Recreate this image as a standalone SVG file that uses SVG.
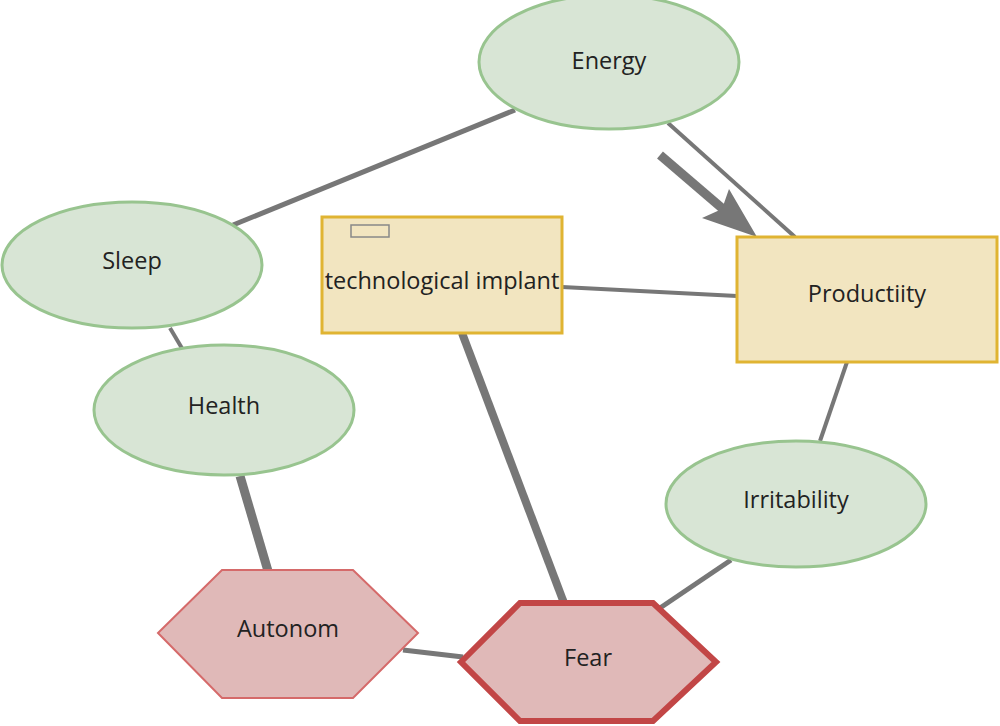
<svg xmlns="http://www.w3.org/2000/svg" width="1000" height="726" viewBox="0 0 1000 726">
<defs>
<style>
.ell{fill:#d8e5d5;stroke:#98c48f;stroke-width:3}
.rect{fill:#f2e5c0;stroke:#e0b432;stroke-width:3}
.hex{fill:#e0b9b8;stroke:#d56a6a;stroke-width:2}
.hexb{fill:#e0b9b8;stroke:#c24646;stroke-width:6;stroke-linejoin:miter}
.lbl{font-family:"Source Sans Pro","Open Sans","Noto Sans",sans-serif;font-size:23.5px;fill:#222;text-anchor:middle;dominant-baseline:central}
.e{stroke:#777;fill:none}
</style>
</defs>
<rect width="1000" height="726" fill="#fff"/>
<g id="connectors">
<line class="e" x1="515" y1="110" x2="233" y2="225" stroke-width="5"/>
<line class="e" x1="668" y1="123" x2="795" y2="237" stroke-width="4"/>
<line class="e" x1="660" y1="155" x2="730" y2="215" stroke-width="9"/>
<path d="M757,237 L729,189 L722,209 L702,218 Z" fill="#777"/>
<line class="e" x1="562" y1="287" x2="737" y2="296" stroke-width="4"/>
<line class="e" x1="170" y1="328" x2="183" y2="350" stroke-width="4"/>
<line class="e" x1="240" y1="476" x2="268" y2="571" stroke-width="9"/>
<line class="e" x1="462" y1="333" x2="564" y2="603" stroke-width="8"/>
<line class="e" x1="847" y1="362" x2="820" y2="441" stroke-width="4"/>
<line class="e" x1="731" y1="560" x2="660" y2="608" stroke-width="5"/>
<line class="e" x1="403" y1="650" x2="463" y2="657" stroke-width="5"/>
</g>
<g id="energy">
<ellipse class="ell" cx="609" cy="62" rx="130" ry="67"/>
<text class="lbl" x="609" y="60">Energy</text>
</g>
<g id="sleep">
<ellipse class="ell" cx="132" cy="265" rx="130" ry="63"/>
<text class="lbl" x="132" y="260">Sleep</text>
</g>
<g id="health">
<ellipse class="ell" cx="224" cy="410" rx="130" ry="65"/>
<text class="lbl" x="224" y="405">Health</text>
</g>
<g id="irritability">
<ellipse class="ell" cx="796" cy="504" rx="130" ry="63"/>
<text class="lbl" x="796" y="499">Irritability</text>
</g>
<g id="technological-implant">
<rect class="rect" x="322" y="217" width="240" height="116"/>
<rect x="351" y="225" width="38" height="12" fill="none" stroke="#888" stroke-width="1.5"/>
<text class="lbl" x="442" y="280">technological implant</text>
</g>
<g id="productiity">
<rect class="rect" x="737" y="237" width="260" height="125"/>
<text class="lbl" x="867" y="293">Productiity</text>
</g>
<g id="autonom">
<polygon class="hex" points="158,633 222,570 353,570 418,633 353,698 222,698"/>
<text class="lbl" x="288" y="628">Autonom</text>
</g>
<g id="fear">
<polygon class="hexb" points="461,662 520,603 653,603 716,662 653,721 520,721"/>
<text class="lbl" x="588" y="657">Fear</text>
</g>
</svg>
